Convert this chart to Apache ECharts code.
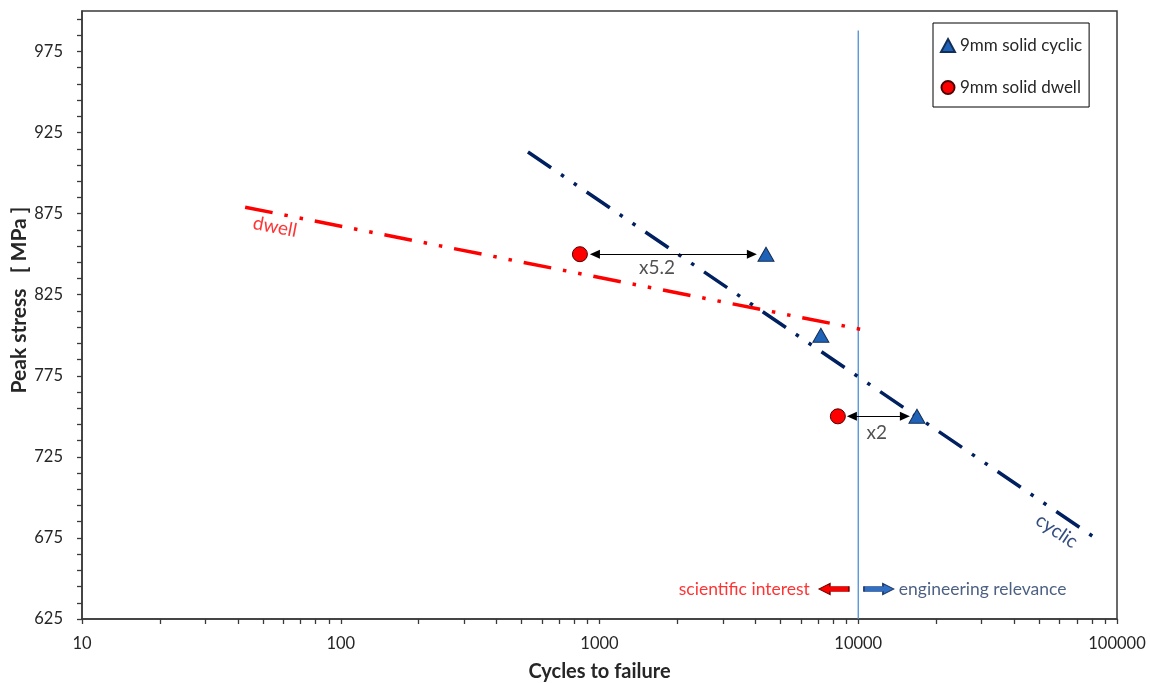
<!DOCTYPE html>
<html><head><meta charset="utf-8">
<script src="https://cdn.jsdelivr.net/npm/echarts@6/dist/echarts.min.js"></script>
<style>html,body{margin:0;padding:0;background:#fff}#c{width:1150px;height:683px}</style>
</head><body><div id="c"></div>
<script>
// ---- data ----
const cyclicPoints = [[4400, 850], [7170, 800], [16860, 750]];
const dwellPoints = [[840, 850], [8340, 750]];
const cyclicTrend = [[529, 913], [85900, 673]];
const dwellTrend = [[42.7, 879], [10990, 802.7]];
const boundaryLine = [[10000, 625], [10000, 988]];
const ratioArrows = [[[960, 850], [3880, 850]], [[9450, 750], [15140, 750]]];
const ratioLabels = [[1667, 841.5, 'x5.2'], [11800, 740, 'x2']];
const trendLabels = [[55.7, 866.8, 'dwell', -11], [58500, 679.3, 'cyclic', -34]];
const regionTexts = [[6500, 643.5, 'scientific interest'], [14350, 643.5, 'engineering relevance']];
const regionArrows = [[8050, 643.5, 'left'], [12020, 643.5, 'right']];
const xLabelValues = [10, 100, 1000, 10000, 100000];
const xTickValues = [10, 20, 30, 40, 50, 60, 70, 80, 90, 100, 200, 300, 400, 500, 600, 700, 800, 900,
  1000, 2000, 3000, 4000, 5000, 6000, 7000, 8000, 9000, 10000, 20000, 30000, 40000, 50000, 60000,
  70000, 80000, 90000, 100000];
const yLabelValues = [625, 675, 725, 775, 825, 875, 925, 975];
const yTickValues = [625, 635, 645, 655, 665, 675, 685, 695, 705, 715, 725, 735, 745, 755, 765, 775,
  785, 795, 805, 815, 825, 835, 845, 855, 865, 875, 885, 895, 905, 915, 925, 935, 945, 955, 965, 975,
  985, 995];

const FONT = 'Lato';
const TXT = '#262626';
const AX = '#3a3a3a';
const dashDotDot = [28, 12, 3.5, 12, 3.5, 12];
const arrowRight = 'path://M0,3 L19,3 L19,0 L30,5.5 L19,11 L19,8 L0,8 Z';
const arrowLeft = 'path://M30,3 L11,3 L11,0 L0,5.5 L11,11 L11,8 L30,8 Z';

const chart = echarts.init(document.getElementById('c'), null, {renderer: 'canvas'});
chart.setOption({
  animation: false,
  backgroundColor: '#fff',
  textStyle: {fontFamily: FONT},
  grid: {left: 82, right: 33, top: 11, bottom: 64, show: true, borderColor: AX, borderWidth: 1.5,
    backgroundColor: 'transparent', containLabel: false, outerBoundsMode: 'none'},
  legend: {
    data: ['9mm solid cyclic', '9mm solid dwell'],
    orient: 'vertical', left: 933, top: 23,
    padding: [14, 7, 11, 7], itemGap: 25, itemWidth: 14, itemHeight: 13, itemStyle: {opacity: 1},
    borderColor: '#000', borderWidth: 1, backgroundColor: '#fff',
    textStyle: {fontSize: 17, fontFamily: FONT, color: TXT}
  },
  xAxis: {
    type: 'log', logBase: 10, min: 10, max: 100000,
    axisLine: {show: true, lineStyle: {color: AX, width: 1.5}},
    axisTick: {show: true, customValues: xTickValues, length: 5, lineStyle: {color: AX, width: 1.3}},
    axisLabel: {customValues: xLabelValues, margin: 16, fontSize: 16.5, color: TXT, fontFamily: FONT,
      formatter: v => String(v)},
    splitLine: {show: false},
    name: 'Cycles to failure', nameLocation: 'middle', nameGap: 43, nameMoveOverlap: false,
    nameTextStyle: {fontWeight: 'bold', fontSize: 20, color: TXT, fontFamily: FONT}
  },
  yAxis: {
    type: 'value', min: 625, max: 1000, interval: 50,
    axisLine: {show: true, lineStyle: {color: AX, width: 1.5}},
    axisTick: {show: true, customValues: yTickValues, length: 5, lineStyle: {color: AX, width: 1.3}},
    axisLabel: {customValues: yLabelValues, margin: 19, fontSize: 16.5, color: TXT, fontFamily: FONT,
      formatter: v => String(v)},
    splitLine: {show: false},
    name: 'Peak stress   [ MPa ]', nameLocation: 'middle', nameGap: 52, nameMoveOverlap: false,
    nameTextStyle: {fontWeight: 'bold', fontSize: 21, color: TXT, fontFamily: FONT, padding: [0, 0, 0, 30]}
  },
  series: [
    {
      name: 'dwell trend', type: 'line', data: dwellTrend, symbol: 'none', silent: true, z: 3,
      lineStyle: {color: '#ff0000', width: 3.5, type: dashDotDot, cap: 'butt'}
    },
    {
      name: 'cyclic trend', type: 'line', data: cyclicTrend, symbol: 'none', silent: true, z: 3,
      lineStyle: {color: '#002060', width: 3.5, type: dashDotDot, cap: 'butt'}
    },
    {
      name: 'boundary', type: 'line', data: boundaryLine, symbol: 'none', silent: true, z: 2,
      lineStyle: {color: '#4a8fd6', width: 1.3, opacity: 1}
    },
    {
      name: 'ratio arrows', type: 'line', data: [], silent: true, z: 4,
      markLine: {
        silent: true, symbol: ['triangle', 'triangle'], symbolSize: [9, 10],
        label: {show: false},
        lineStyle: {color: '#000', width: 1, type: 'solid', opacity: 1},
        emphasis: {disabled: true},
        data: ratioArrows.map(a => [{coord: a[0]}, {coord: a[1]}])
      }
    },
    {
      name: 'ratio labels', type: 'scatter', symbolSize: 0, silent: true, z: 5,
      data: ratioLabels.map(d => ({value: [d[0], d[1]], name: d[2]})),
      label: {show: true, position: 'inside', formatter: p => p.name, color: TXT, fontSize: 19, fontFamily: FONT}
    },
    {
      name: 'trend labels', type: 'scatter', symbolSize: 0, silent: true, z: 5,
      data: trendLabels.map((d, i) => ({
        value: [d[0], d[1]], name: d[2],
        label: {rotate: d[3], color: i === 0 ? '#ff0000' : '#002060'}
      })),
      label: {show: true, position: 'inside', formatter: p => p.name, fontSize: 19, fontFamily: FONT}
    },
    {
      name: 'region texts', type: 'scatter', symbolSize: 0, silent: true, z: 5,
      data: regionTexts.map((d, i) => ({
        value: [d[0], d[1]], name: d[2],
        label: {position: i === 0 ? 'left' : 'right', color: i === 0 ? '#ff0000' : '#1f3864'}
      })),
      label: {show: true, distance: 0, formatter: p => p.name, fontSize: 17.5, fontFamily: FONT}
    },
    {
      name: 'region arrows', type: 'scatter', silent: true, z: 5,
      symbolSize: [30, 11],
      data: regionArrows.map(d => ({
        value: [d[0], d[1]],
        symbol: d[2] === 'left' ? arrowLeft : arrowRight,
        itemStyle: d[2] === 'left'
          ? {color: '#ff0000', borderColor: '#7a0000', borderWidth: 1, opacity: 1}
          : {color: '#2f6fc6', borderColor: '#1f3864', borderWidth: 1, opacity: 1}
      }))
    },
    {
      name: '9mm solid cyclic', type: 'scatter', data: cyclicPoints, z: 6,
      symbol: 'triangle', symbolSize: [16, 14],
      itemStyle: {color: '#1f63b8', borderColor: '#142f57', borderWidth: 1, opacity: 1}
    },
    {
      name: '9mm solid dwell', type: 'scatter', data: dwellPoints, z: 6,
      symbol: 'circle', symbolSize: 15,
      itemStyle: {color: '#ff0000', borderColor: '#4d0000', borderWidth: 1, opacity: 1}
    }
  ]
});
</script>
</body></html>
